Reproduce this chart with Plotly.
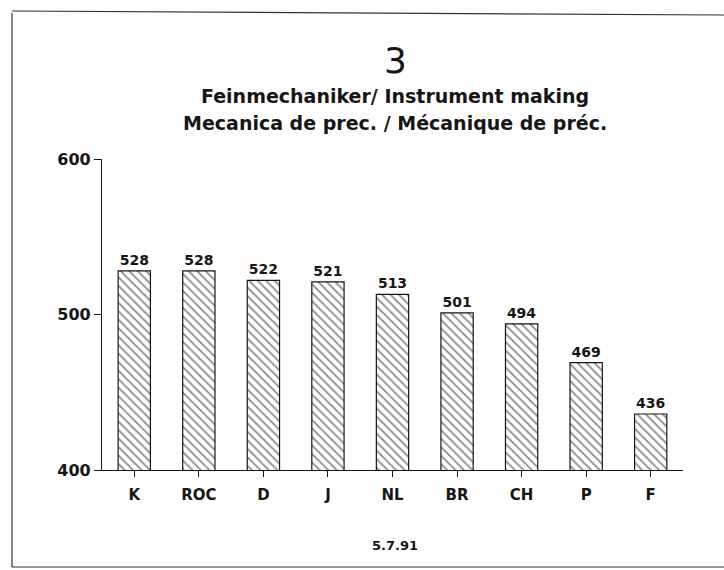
import plotly.graph_objects as go

categories = ["K", "ROC", "D", "J", "NL", "BR", "CH", "P", "F"]
values = [528, 528, 522, 521, 513, 501, 494, 469, 436]
y_ticks = [400, 500, 600]
title_number = "3"
title_line1 = "Feinmechaniker/ Instrument making"
title_line2 = "Mecanica de prec. / Mécanique de préc."
date_text = "5.7.91"

FONT = "DejaVu Sans, Liberation Sans, Arial, sans-serif"
INK = "#161616"

W, H = 724, 570
L, R_EDGE, T, B_EDGE = 102, 683, 159, 470

fig = go.Figure()
fig.add_trace(go.Bar(
    x=categories,
    y=values,
    base=0,
    width=0.5,
    marker=dict(
        color="white",
        line=dict(color=INK, width=1.2),
        pattern=dict(shape="\\", fgcolor=INK, bgcolor="white", size=6, solidity=0.3),
    ),
    text=[str(v) for v in values],
    texttemplate="<b>%{text}</b>",
    textposition="outside",
    textfont=dict(family=FONT, size=14, color=INK),
    cliponaxis=False,
))

plot_w = R_EDGE - L
plot_h = B_EDGE - T

def px(x):
    return (x - L) / plot_w

def py(y):
    return (B_EDGE - y) / plot_h

fig.update_layout(
    width=W, height=H,
    margin=dict(l=L, r=W - R_EDGE, t=T, b=H - B_EDGE),
    paper_bgcolor="white", plot_bgcolor="white",
    showlegend=False,
    font=dict(family=FONT, color=INK),
    xaxis=dict(
        type="category", range=[-0.5, 8.5],
        tickvals=categories, ticktext=["<b>%s</b>" % c for c in categories],
        showline=True, linecolor=INK, linewidth=1.2,
        ticks="outside", ticklen=6, tickcolor=INK,
        ticklabelstandoff=5,
        tickfont=dict(family=FONT, size=15, color=INK),
        showgrid=False, zeroline=False,
    ),
    yaxis=dict(
        range=[400, 600], tickvals=y_ticks, ticktext=["<b>%d</b>" % t for t in y_ticks],
        showline=True, linecolor=INK, linewidth=1.2,
        ticks="outside", ticklen=7, tickcolor=INK,
        tickfont=dict(family=FONT, size=16, color=INK),
        showgrid=False, zeroline=False,
    ),
)

def ann(text, y, size):
    fig.add_annotation(text=text, xref="paper", yref="paper", x=px(395), y=py(y),
                       xanchor="center", yanchor="middle", showarrow=False,
                       font=dict(family=FONT, size=size, color=INK))

ann(title_number, 60, 36)
ann("<b>" + title_line1 + "</b>", 96, 19)
ann("<b>" + title_line2 + "</b>", 123, 19)
ann("<b>" + date_text + "</b>", 545, 13)

# Frame border (left, top, bottom)
fl, ft, fb = 12, 13, 567
line_style = dict(color="#333", width=1.2)
fig.add_shape(type="line", xref="paper", yref="paper", x0=px(fl), x1=px(fl), y0=py(ft), y1=py(fb), line=line_style)
fig.add_shape(type="line", xref="paper", yref="paper", x0=px(fl), x1=px(W), y0=py(ft - 2), y1=py(ft + 2), line=line_style)
fig.add_shape(type="line", xref="paper", yref="paper", x0=px(fl), x1=px(W), y0=py(fb), y1=py(fb), line=line_style)

fig.write_html(
    "out.html",
    config={"displayModeBar": False},
    post_script="document.body.style.margin='0';document.body.style.overflow='hidden';",
)
